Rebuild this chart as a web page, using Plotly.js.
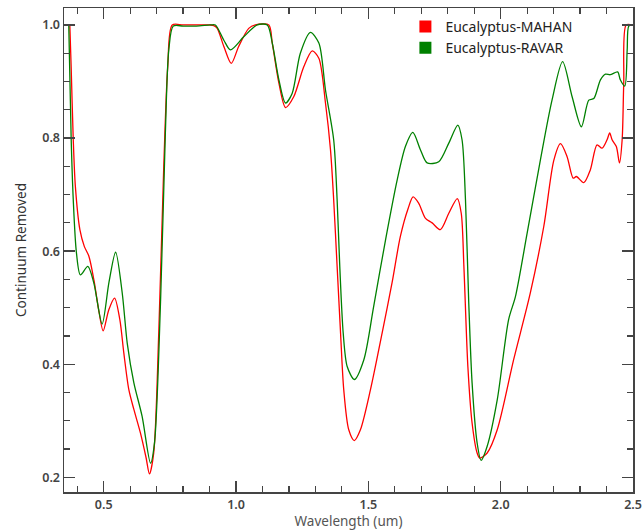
<!DOCTYPE html>
<html>
<head>
<meta charset="utf-8">
<script src="https://cdn.plot.ly/plotly-3.0.1.min.js"></script>
<style>html,body{margin:0;padding:0;background:#fff;}#chart{width:643px;height:531px;}</style>
</head>
<body>
<div id="chart"></div>
<script>
var seriesNames = ["Eucalyptus-MAHAN", "Eucalyptus-RAVAR"];

var mahanX = [0.372,0.377,0.385,0.393,0.410,0.427,0.444,0.463,0.481,0.498,0.519,0.541,0.561,0.576,0.595,0.614,0.639,0.660,0.673,0.689,0.708,0.727,0.742,0.759,0.80,0.85,0.90,0.916,0.929,0.954,0.982,1.010,1.048,1.073,1.124,1.137,1.162,1.187,1.218,1.256,1.288,1.313,1.338,1.357,1.369,1.382,1.395,1.407,1.426,1.447,1.470,1.508,1.552,1.590,1.621,1.650,1.669,1.690,1.716,1.741,1.772,1.804,1.836,1.851,1.861,1.876,1.892,1.911,1.921,1.949,1.987,2.049,2.112,2.163,2.201,2.226,2.251,2.274,2.286,2.314,2.339,2.364,2.383,2.402,2.412,2.421,2.437,2.449,2.459,2.465,2.474,2.497];
var mahanY = [1.000,0.926,0.797,0.714,0.638,0.608,0.591,0.549,0.496,0.459,0.496,0.517,0.479,0.420,0.355,0.320,0.278,0.235,0.206,0.243,0.455,0.750,0.926,1.000,1.000,1.000,1.000,0.999,0.994,0.962,0.932,0.962,0.994,1.000,1.000,0.968,0.897,0.854,0.873,0.926,0.954,0.941,0.862,0.779,0.691,0.573,0.455,0.355,0.284,0.265,0.284,0.355,0.455,0.545,0.626,0.675,0.696,0.685,0.658,0.650,0.638,0.667,0.693,0.667,0.573,0.396,0.296,0.243,0.234,0.243,0.284,0.408,0.526,0.644,0.761,0.790,0.767,0.729,0.732,0.721,0.744,0.788,0.782,0.797,0.809,0.797,0.785,0.756,0.797,0.897,1.000,1.000];

var ravarX = [0.368,0.377,0.385,0.397,0.412,0.440,0.463,0.494,0.520,0.545,0.570,0.589,0.614,0.645,0.677,0.692,0.715,0.733,0.746,0.763,0.80,0.85,0.904,0.922,0.954,0.979,1.029,1.080,1.118,1.137,1.162,1.187,1.212,1.243,1.281,1.313,1.338,1.369,1.382,1.392,1.405,1.420,1.447,1.483,1.520,1.565,1.609,1.640,1.668,1.697,1.722,1.766,1.804,1.838,1.854,1.867,1.879,1.892,1.911,1.926,1.949,1.987,2.030,2.056,2.100,2.150,2.194,2.234,2.270,2.305,2.333,2.352,2.377,2.396,2.414,2.442,2.452,2.469,2.478,2.484,2.497];
var ravarY = [1.000,0.800,0.691,0.597,0.558,0.573,0.543,0.471,0.545,0.598,0.526,0.437,0.367,0.308,0.225,0.261,0.514,0.809,0.956,0.998,0.998,0.998,1.000,1.000,0.973,0.956,0.979,1.000,1.000,0.968,0.903,0.862,0.879,0.950,0.987,0.968,0.885,0.797,0.691,0.573,0.455,0.396,0.373,0.408,0.502,0.620,0.726,0.785,0.810,0.779,0.756,0.758,0.791,0.823,0.797,0.691,0.514,0.367,0.261,0.230,0.255,0.337,0.479,0.520,0.632,0.761,0.867,0.935,0.873,0.820,0.867,0.870,0.903,0.913,0.912,0.917,0.903,0.892,0.956,0.998,1.000];

var colors = ["#ff0000", "#008000"];

var traces = [
  {x: mahanX, y: mahanY, mode: "lines", line: {color: colors[0], width: 1.3, shape: "spline", smoothing: 0.8}, showlegend: false, name: seriesNames[0]},
  {x: ravarX, y: ravarY, mode: "lines", line: {color: colors[1], width: 1.3, shape: "spline", smoothing: 0.8}, showlegend: false, name: seriesNames[1]},
  {x: [null], y: [null], mode: "markers", marker: {symbol: "square", size: 12, color: colors[0]}, name: seriesNames[0], showlegend: true},
  {x: [null], y: [null], mode: "markers", marker: {symbol: "square", size: 12, color: colors[1]}, name: seriesNames[1], showlegend: true}
];

var fam = "Noto Sans, Open Sans, sans-serif";

var axisCommon = {
  showgrid: false, zeroline: false, showline: true, linecolor: "#444", linewidth: 1.5,
  mirror: "allticks", ticks: "inside", ticklen: 11, tickwidth: 1.3, tickcolor: "#444",
  tickfont: {family: fam, size: 12.5, color: "#444", weight: 600}
};

var layout = {
  width: 643, height: 531,
  margin: {l: 63.5, r: 10.3, t: 8.3, b: 38.7},
  paper_bgcolor: "#fff", plot_bgcolor: "#fff",
  showlegend: true,
  legend: {x: 0.600, y: 0.994, xanchor: "left", yanchor: "top", bgcolor: "rgba(0,0,0,0)",
    font: {family: fam, size: 14, color: "#222"}, itemwidth: 30},
  xaxis: Object.assign({}, axisCommon, {
    range: [0.35, 2.5], tickvals: [0.5, 1.0, 1.5, 2.0, 2.5], ticktext: ["0.5", "1.0", "1.5", "2.0", "2.5"],
    minor: {dtick: 0.1, tick0: 0, ticks: "inside", ticklen: 6, tickwidth: 1.2, tickcolor: "#444"},
    title: {text: "Wavelength (um)", standoff: 4, font: {family: fam, size: 13.5, color: "#555"}}
  }),
  yaxis: Object.assign({}, axisCommon, {
    range: [0.174, 1.03], tickvals: [0.2, 0.4, 0.6, 0.8, 1.0], ticktext: ["0.2", "0.4", "0.6", "0.8", "1.0"],
    minor: {dtick: 0.05, tick0: 0, ticks: "inside", ticklen: 6, tickwidth: 1.2, tickcolor: "#444"},
    title: {text: "Continuum Removed", standoff: 12, font: {family: fam, size: 13.5, color: "#333"}}
  })
};

Plotly.newPlot("chart", traces, layout, {displayModeBar: false, staticPlot: true});
</script>
</body>
</html>
